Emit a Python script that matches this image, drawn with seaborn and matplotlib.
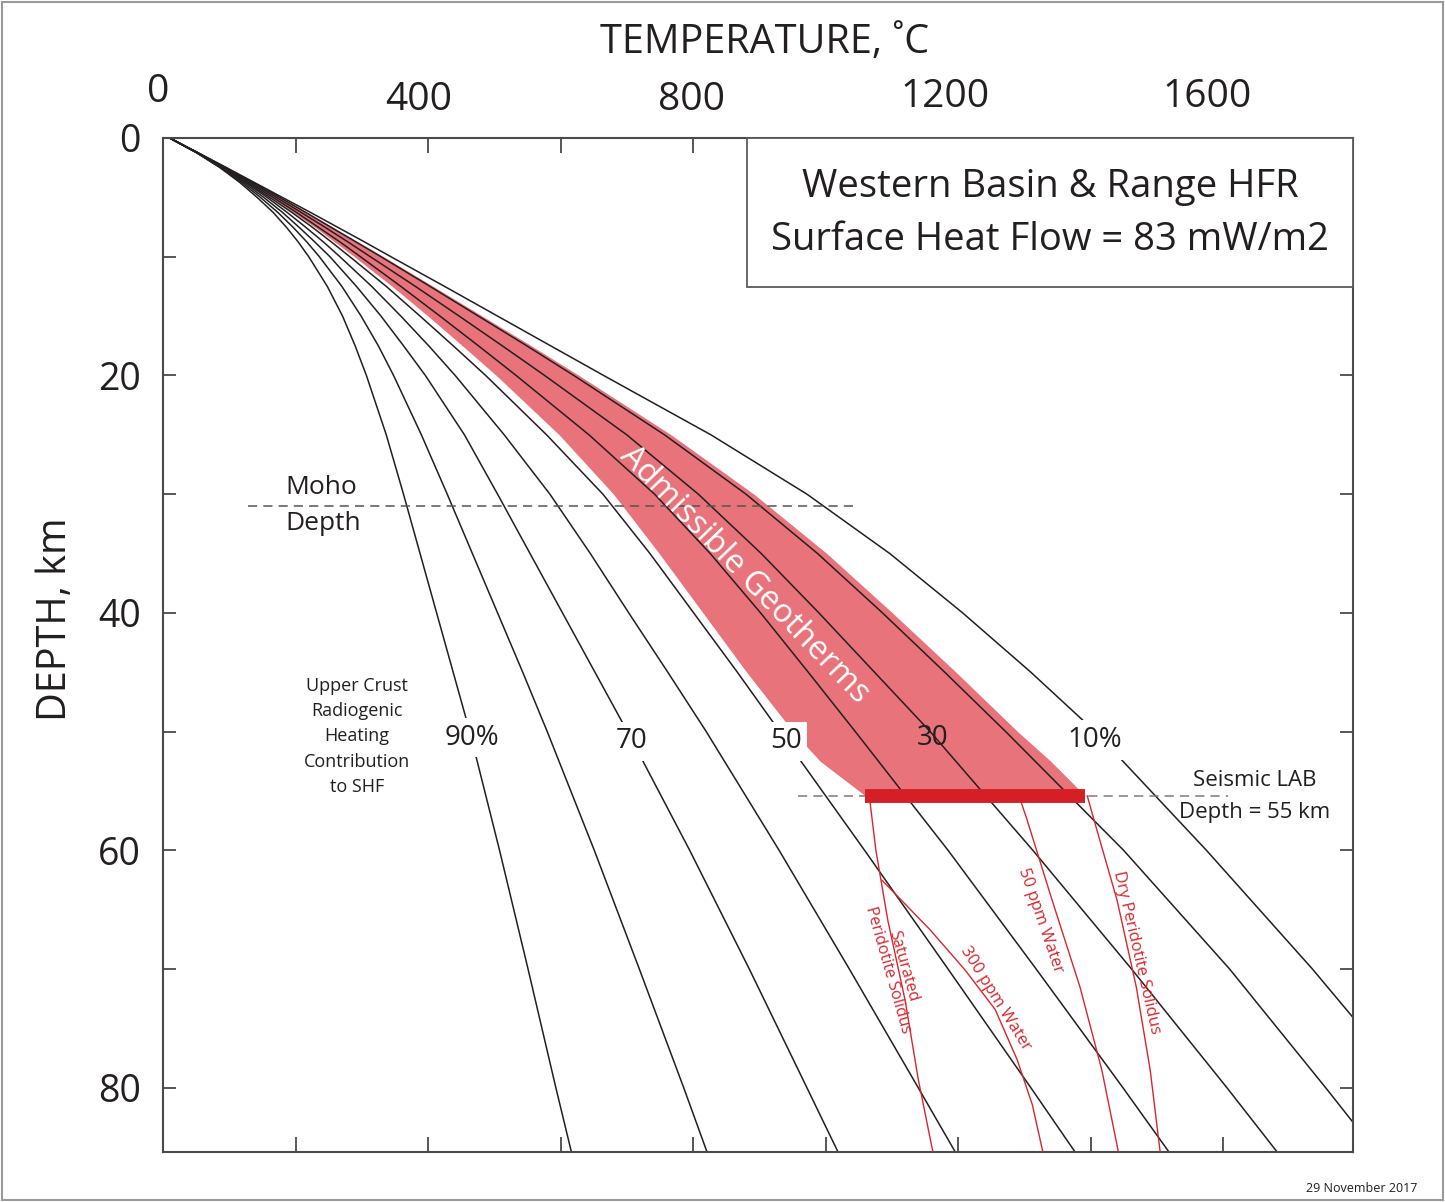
import pandas as pd
import seaborn as sns
import matplotlib.pyplot as plt
from matplotlib.patches import Rectangle
from matplotlib.ticker import FixedLocator, NullFormatter, MultipleLocator

# depth (km) at which the geotherms are read
depth_km = [0, 1.25, 2.5, 3.75, 5, 6.25, 7.5, 8.75, 10, 12.5, 15, 17.5, 20, 25, 30,
            35, 40, 45, 50, 60, 70, 80, 86]

# geotherms (deg C), one per upper crust radiogenic share of the surface heat flow
geotherm_90 = [10, 51, 86, 116, 142, 166, 186, 204, 220, 248, 271, 290, 307, 337, 363,
               388, 413, 438, 463, 508, 551, 593, 619]
geotherm_80 = [10, 51, 87, 119, 147, 173, 196, 217, 236, 270, 299, 325, 348, 390, 429,
               467, 505, 543, 580, 651, 719, 786, 825]
geotherm_70 = [10, 51, 88, 122, 152, 180, 205, 229, 252, 292, 329, 363, 396, 455, 505,
               554, 603, 652, 701, 795, 885, 972, 1024]
geotherm_60 = [10, 52, 90, 125, 157, 187, 215, 242, 267, 315, 359, 401, 441, 515, 584,
               645, 703, 762, 820, 930, 1036, 1140, 1202]
geotherm_50 = [10, 52, 91, 127, 161, 194, 225, 254, 282, 337, 388, 438, 487, 579, 664,
               735, 801, 867, 931, 1059, 1185, 1310, 1384]
geotherm_40 = [10, 52, 92, 130, 166, 201, 234, 267, 298, 359, 418, 476, 533, 643, 742,
               826, 902, 974, 1045, 1185, 1318, 1449, 1526]
geotherm_30 = [10, 53, 94, 133, 171, 208, 244, 279, 313, 381, 447, 512, 576, 700, 808,
               903, 990, 1074, 1158, 1313, 1462, 1606, 1690]
geotherm_20 = [10, 53, 95, 136, 176, 215, 253, 291, 329, 403, 476, 549, 620, 757, 880,
               988, 1086, 1180, 1272, 1450, 1610, 1755, 1840]
geotherm_10 = [10, 53, 96, 138, 180, 222, 263, 304, 344, 425, 505, 585, 665, 827, 972,
               1097, 1207, 1310, 1407, 1575, 1735, 1885, 1972]

# admissible geotherm envelope
band_depth = [0, 2.5, 5, 7.5, 10, 12.5, 15, 17.5, 20, 25, 30, 35, 40, 45, 50, 52.5, 55.4]
band_left = [10, 92, 163, 229, 289, 346, 400, 452, 503, 598, 680, 749, 815, 881, 951, 992, 1060]
band_right = [10, 96, 178, 256, 333, 408, 482, 556, 628, 767, 892, 1002, 1101, 1197, 1290,
              1340, 1392]

# solidus curves below the LAB
sat_solidus_depth = [55.4, 60.0, 65.9, 72.6, 79.3, 85.4]
sat_solidus_temp = [1066, 1076, 1094, 1120, 1140, 1162]
ppm300_depth = [62.5, 66.7, 70.1, 73.4, 77.6, 81.4, 85.4]
ppm300_temp = [1085, 1158, 1211, 1256, 1289, 1312, 1328]
ppm50_depth = [55.4, 57.4, 64.2, 71.5, 78.5, 85.4]
ppm50_temp = [1292, 1304, 1342, 1384, 1417, 1442]
dry_solidus_depth = [55.4, 57.4, 64.2, 71.5, 78.5, 85.4]
dry_solidus_temp = [1395, 1405, 1440, 1469, 1490, 1505]

moho_depth = 31
lab_depth = 55.4
lab_range = [1060, 1392]

temp_ticks = [0, 400, 800, 1200, 1600]
depth_ticks = [0, 20, 40, 60, 80]

TXT = '#231f20'
RED = '#d7262d'
PINK = '#e8737a'

sns.set_theme(style='ticks')
plt.rcParams['font.family'] = ['Open Sans', 'DejaVu Sans']
plt.rcParams['text.color'] = TXT

fig = plt.figure(figsize=(14.45, 12.02), dpi=100)
ax = fig.add_axes([0.1128, 0.0416, 0.8235, 0.8436])

geotherms = {'90': geotherm_90, '80': geotherm_80, '70': geotherm_70,
             '60': geotherm_60, '50': geotherm_50, '40': geotherm_40,
             '30': geotherm_30, '20': geotherm_20, '10': geotherm_10}
rows = []
for share, temps in geotherms.items():
    for d, t in zip(depth_km, temps):
        rows.append({'share': share, 'depth': d, 'temperature': t})
df = pd.DataFrame(rows)

ax.fill_betweenx(band_depth, band_left, band_right, color=PINK, lw=0, zorder=1)
sns.lineplot(data=df, x='temperature', y='depth', units='share', estimator=None,
             sort=False, color=TXT, lw=1.1, ax=ax, zorder=2)

# moho and LAB
ax.plot([128, 1045], [moho_depth, moho_depth], color='#555555', lw=1.1,
        ls=(0, (6, 4)), zorder=3)
ax.plot([958, 1607], [lab_depth, lab_depth], color='#7a7a7a', lw=1.1,
        ls=(0, (6, 4)), zorder=3)
ax.plot(lab_range, [lab_depth, lab_depth], color='#d51f27', lw=10,
        solid_capstyle='butt', zorder=4)

# solidus lines
for t, d in [(sat_solidus_temp, sat_solidus_depth), (ppm300_temp, ppm300_depth),
             (ppm50_temp, ppm50_depth), (dry_solidus_temp, dry_solidus_depth)]:
    ax.plot(t, d, color=RED, lw=1.0, zorder=3)

ax.set_xlim(0, 1796)
ax.set_ylim(85.4, 0)
ax.set_xlabel('')

for s in ax.spines.values():
    s.set_color('#4a4a4a')
    s.set_linewidth(1.5)

ax.xaxis.set_major_locator(FixedLocator(temp_ticks))
ax.xaxis.set_major_formatter(NullFormatter())
ax.xaxis.set_minor_locator(MultipleLocator(200))
ax.tick_params(axis='x', which='both', direction='in', top=True, bottom=True,
               labeltop=False, labelbottom=False, length=11, width=1.3, color='#4a4a4a')
ax.yaxis.set_major_locator(FixedLocator(depth_ticks))
ax.yaxis.set_minor_locator(MultipleLocator(10))
ax.tick_params(axis='y', which='both', direction='in', left=True, right=True,
               length=9.5, width=1.3, color='#4a4a4a')
ax.tick_params(axis='y', which='major', labelsize=27, pad=16, labelcolor=TXT)

# top temperature labels, hand placed like the original artwork
label_x = [-7, 386, 797, 1180, 1576]
label_y = [1.0454, 1.0375, 1.0375, 1.0404, 1.0404]
for v, lx, ly in zip(temp_ticks, label_x, label_y):
    ax.text(lx, ly, str(v), transform=ax.get_xaxis_transform(), ha='center',
            va='center', fontsize=28)

ax.set_ylabel('DEPTH, km', fontsize=28.5, color=TXT)
ax.yaxis.set_label_coords(-0.0735, 0.525)
fig.text(765 / 1445, 1 - 43 / 1202, 'TEMPERATURE, \u02daC', ha='center', va='center',
         fontsize=28.5)

# info box
ax.add_patch(Rectangle((881.5, 0), 1796 - 881.5, 12.55, facecolor='white',
                       edgecolor='#5a5a5a', lw=1.3, zorder=5, clip_on=False))
ax.text(1339, 4.1, 'Western Basin & Range HFR', ha='center', va='center',
        fontsize=27.5, zorder=6)
ax.text(1339, 8.6, 'Surface Heat Flow = 83 mW/m2', ha='center', va='center',
        fontsize=27.5, zorder=6)

# annotations
ax.text(184, 29.4, 'Moho', ha='left', va='center', fontsize=19, zorder=6)
ax.text(184, 32.5, 'Depth', ha='left', va='center', fontsize=19, zorder=6)
ax.text(293, 50.4, 'Upper Crust\nRadiogenic\nHeating\nContribution\nto SHF',
        ha='center', va='center', fontsize=13, linespacing=1.52, zorder=6)
ax.text(1648, 54.1, 'Seismic LAB', ha='center', va='center', fontsize=16, zorder=6)
ax.text(1648, 56.8, 'Depth = 55 km', ha='center', va='center', fontsize=16, zorder=6)
ax.text(878, 36.8, 'Admissible Geotherms', rotation=-46, rotation_mode='anchor',
        ha='center', va='center', fontsize=23.5, color='white', zorder=6)

box = dict(facecolor='white', edgecolor='none', pad=4)
for label, t, d, boxed in [('90%', 466, 50.5, True), ('70', 708, 50.8, True),
                           ('50', 940, 50.8, True), ('30', 1161, 50.5, False),
                           ('10%', 1407, 50.7, True)]:
    ax.text(t, d, label, ha='center', va='center', fontsize=20, zorder=6,
            bbox=box if boxed else None)

ax.text(1106, 69.9, 'Saturated\nPeridotite Solidus', rotation=-74,
        rotation_mode='anchor', ha='center', va='center', multialignment='center',
        fontsize=11.5, color=RED, linespacing=1.0, zorder=6)
ax.text(1256, 72.5, '300 ppm Water', rotation=-58, rotation_mode='anchor',
        ha='center', va='center', fontsize=12, color=RED, zorder=6)
ax.text(1324, 65.9, '50 ppm Water', rotation=-71, rotation_mode='anchor',
        ha='center', va='center', fontsize=12, color=RED, zorder=6)
ax.text(1470, 68.6, 'Dry Peridotite Solidus', rotation=-77, rotation_mode='anchor',
        ha='center', va='center', fontsize=12, color=RED, zorder=6)

fig.text(1362 / 1445, 1 - 1188 / 1202, '29 November 2017', ha='center', va='center',
         fontsize=9)
fig.patches.append(Rectangle((0.0015, 0.002), 0.997, 0.996, transform=fig.transFigure,
                             fill=False, edgecolor='#9a9a9a', lw=1.5))

fig.savefig('out.png', dpi=100)
